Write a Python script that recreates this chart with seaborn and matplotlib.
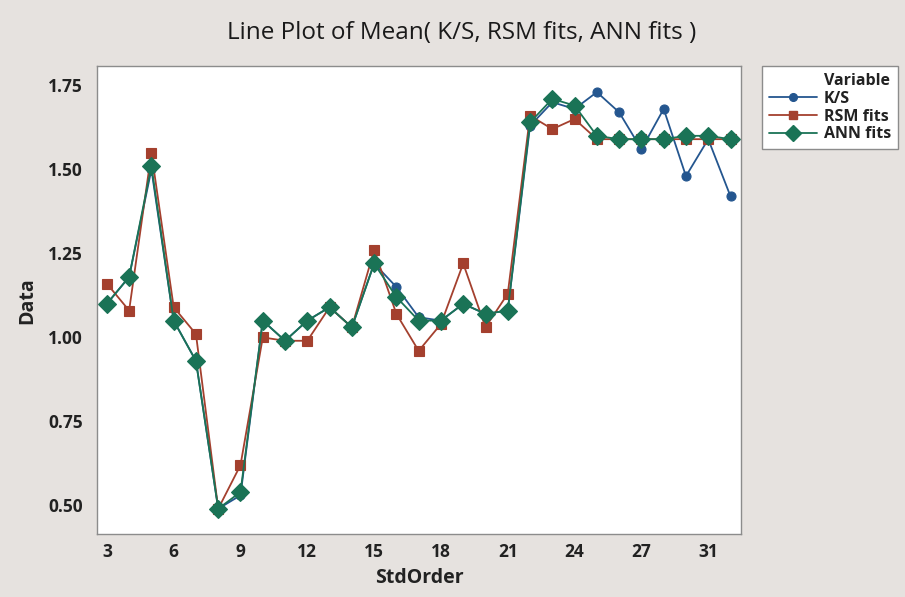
import matplotlib
matplotlib.use("Agg")
import matplotlib.pyplot as plt
from matplotlib.lines import Line2D
import numpy as np
import pandas as pd
import seaborn as sns

# StdOrder values present in the worksheet (plotted as equally spaced categories)
std_order = [3, 4, 5, 6, 7, 8, 9, 10, 11, 12, 13, 14, 15, 16, 17, 18, 19, 20,
             21, 22, 23, 24, 25, 26, 27, 28, 30, 31, 32]

ks = [1.10, 1.18, 1.50, 1.05, 0.93, 0.49, 0.53, 1.05, 0.99, 1.05, 1.09, 1.03,
      1.22, 1.15, 1.06, 1.05, 1.10, 1.07, 1.08, 1.63, 1.70, 1.68, 1.73, 1.67,
      1.56, 1.68, 1.48, 1.59, 1.42]
rsm_fits = [1.16, 1.08, 1.55, 1.09, 1.01, 0.49, 0.62, 1.00, 0.99, 0.99, 1.09,
            1.03, 1.26, 1.07, 0.96, 1.04, 1.22, 1.03, 1.13, 1.66, 1.62, 1.65,
            1.59, 1.59, 1.59, 1.59, 1.59, 1.59, 1.59]
ann_fits = [1.10, 1.18, 1.51, 1.05, 0.93, 0.49, 0.54, 1.05, 0.99, 1.05, 1.09,
            1.03, 1.22, 1.12, 1.05, 1.05, 1.10, 1.07, 1.08, 1.64, 1.71, 1.69,
            1.60, 1.59, 1.59, 1.59, 1.60, 1.60, 1.59]

tick_labels = ["3", "6", "9", "12", "15", "18", "21", "24", "27", "31"]

series = {"K/S": ks, "RSM fits": rsm_fits, "ANN fits": ann_fits}
colors = {"K/S": "#24568f", "RSM fits": "#a4402e", "ANN fits": "#1a7356"}
markers = {"K/S": "o", "RSM fits": "s", "ANN fits": "D"}
msizes = {"K/S": 6.5, "RSM fits": 7.5, "ANN fits": 9}

pos = np.arange(len(std_order))
df = pd.concat(
    [pd.DataFrame({"pos": pos, "Data": vals, "Variable": name})
     for name, vals in series.items()],
    ignore_index=True,
)

sns.set_theme(style="white")
plt.rcParams["font.family"] = ["Open Sans", "DejaVu Sans"]

bg = "#e6e2df"
fig = plt.figure(figsize=(9.05, 5.97), dpi=100, facecolor=bg)
ax = fig.add_axes([0.107, 0.105, 0.712, 0.784])
ax.set_facecolor("white")

sns.lineplot(data=df, x="pos", y="Data", hue="Variable", style="Variable",
             markers=markers, dashes=False, palette=colors, ax=ax,
             linewidth=1.3, markeredgewidth=0.8, legend=False)

for line, name in zip(ax.lines, series):
    line.set_markersize(msizes[name])
    line.set_markeredgecolor(colors[name])

ax.set_xlim(-0.45, 28.48)
ax.set_ylim(0.414, 1.807)

label_pos = [std_order.index(int(t)) for t in tick_labels]
ax.set_xticks(label_pos)
ax.set_xticklabels(tick_labels)
ax.set_yticks([0.50, 0.75, 1.00, 1.25, 1.50, 1.75])
ax.set_yticklabels(["0.50", "0.75", "1.00", "1.25", "1.50", "1.75"])
ax.tick_params(axis="both", direction="out", length=4, width=0.8,
               color="#777777", labelsize=12.5, labelcolor="#222222")
ax.tick_params(axis="y", pad=6)
ax.tick_params(axis="x", pad=2)
for lab in ax.get_xticklabels() + ax.get_yticklabels():
    lab.set_fontweight("bold")

ax.set_xlabel("StdOrder", fontsize=14, fontweight="bold", color="#222222",
              labelpad=5)
ax.set_ylabel("Data", fontsize=14, fontweight="bold", color="#222222",
              labelpad=8)

for spine in ax.spines.values():
    spine.set_color("#8c8c8c")
    spine.set_linewidth(1.0)

fig.text(0.51, 0.944, "Line Plot of Mean( K/S, RSM fits, ANN fits )",
         ha="center", va="center", fontsize=17.5, color="#1a1a1a")

handles = [Line2D([], [], linestyle="none")]
labels = ["Variable"]
for name in series:
    handles.append(Line2D([], [], color=colors[name], marker=markers[name],
                          markersize=msizes[name] * 0.85, linewidth=1.3,
                          markeredgecolor=colors[name]))
    labels.append(name)

leg = fig.legend(handles, labels, loc="upper left",
                 bbox_to_anchor=(0.842, 0.889), frameon=True, fancybox=False,
                 framealpha=1.0, fontsize=11.5, handlelength=3.0,
                 handletextpad=0.4, labelspacing=0.1, borderpad=0.45,
                 borderaxespad=0)
leg.get_frame().set_edgecolor("#8c8c8c")
leg.get_frame().set_facecolor("white")
leg.get_frame().set_linewidth(1.0)
for t in leg.get_texts():
    t.set_fontweight("bold")
    t.set_color("#222222")

fig.savefig("out.png", dpi=100, facecolor=bg)
